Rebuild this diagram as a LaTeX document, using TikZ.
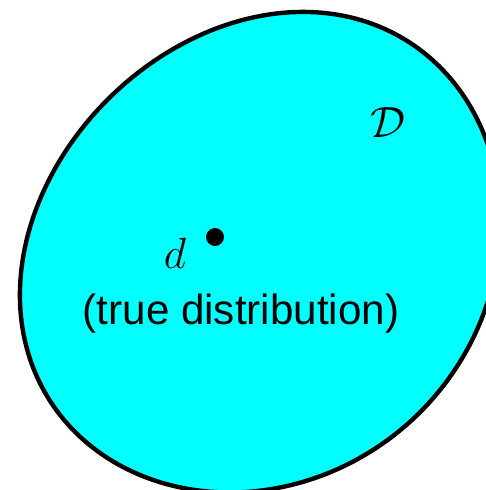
\documentclass[tikz,border=0pt]{standalone}
\usepackage{fontspec}
\newfontfamily\labelfont{Liberation Sans}
\usepackage{amsmath}
\usetikzlibrary{positioning}
\definecolor{setcyan}{RGB}{0,255,255}

\begin{document}
\begin{tikzpicture}[
  x=0.02cm, y=-0.02cm,
  region/.style = {draw=black, line width=2.5pt, fill=setcyan},
  pt/.style     = {circle, fill=black, inner sep=0pt, minimum size=0.36cm},
  mathlbl/.style= {inner sep=0pt, font=\fontsize{36}{40}\selectfont},
  txt/.style    = {inner sep=0pt, font=\labelfont\fontsize{24}{28}\selectfont},
]
  \useasboundingbox (0,0) rectangle (486,490);
  % the set D: a tilted egg, cut off at the right edge
  \begin{scope}
    \clip (0,0) rectangle (486,490);
    \draw[region] plot[domain=0:360, samples=120, smooth]
      ({257.5 + (258*cos(\x) + (221+9*sin(\x))*sin(\x))/1.4142},
       {249.5 + ((221+9*sin(\x))*sin(\x) - 258*cos(\x))/1.4142}) -- cycle;
  \end{scope}
  \node[pt]      (d)     at (215,237) {};
  \node[mathlbl] (dlbl)  at (175,253) {$d$};
  \node[mathlbl] (Dlbl)  at (388,123) {$\mathcal{D}$};
  \node[txt]     (true)  at (241,314) {(true distribution)};
\end{tikzpicture}
\end{document}
